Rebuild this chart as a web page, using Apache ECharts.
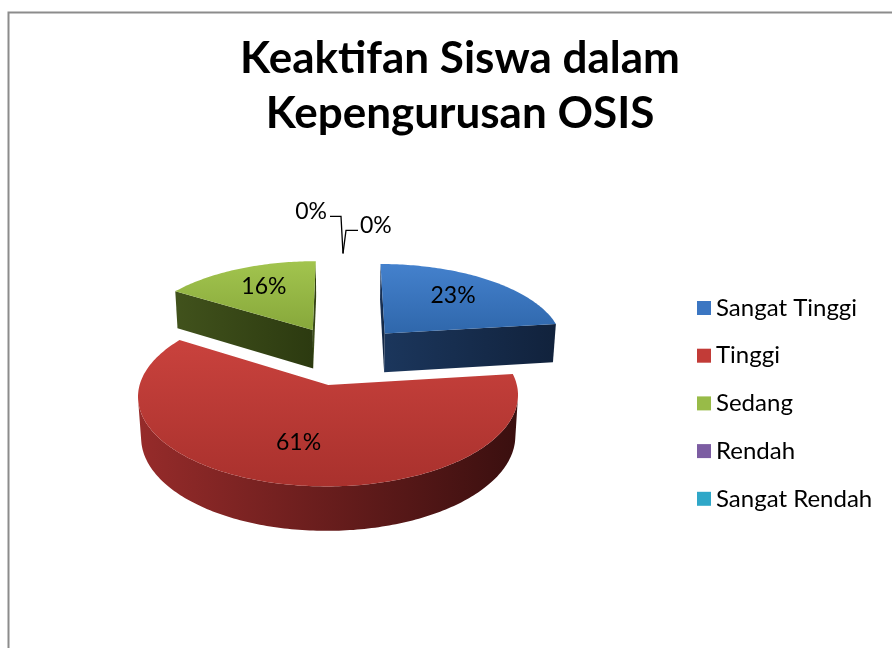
<!DOCTYPE html>
<html>
<head>
<meta charset="utf-8">
<script src="https://cdn.jsdelivr.net/npm/echarts@6/dist/echarts.min.js"></script>
<style>
  html, body { margin: 0; padding: 0; background: #fff; }
  #chart { width: 892px; height: 648px; }
</style>
</head>
<body>
<div id="chart"></div>
<script>
const categories = ['Sangat Tinggi', 'Tinggi', 'Sedang', 'Rendah', 'Sangat Rendah'];
const values = [23, 61, 16, 0, 0];

// colours: legend swatch, top face gradient, side wall gradient
const legendColors = ['#3b76c2', '#c23b37', '#98bb48', '#7c5da2', '#2fa7c8'];
const topColors = [
  ['#4481cd', '#2f67ab'],
  ['#c9423d', '#a9312d'],
  ['#a2c44e', '#87a83b'],
  ['#7c5da2', '#634888'],
  ['#2fa7c8', '#2088a6']
];
const sideColors = [
  ['#1b365c', '#11223c'],
  ['#962b2a', '#3a0f0f'],
  ['#41521c', '#2c3a10'],
  ['#3e2d55', '#2a1e3a'],
  ['#17566a', '#0f3a48']
];

// 3d pie geometry
const CX = 343, CY = 355;
const R = 181, H = 45, EXPLODE = 65;
const TILT = 27 * Math.PI / 180;
const DIST = 1400;
const FONT = 'Lato, "Open Sans", sans-serif';

const total = values.reduce((a, b) => a + b, 0);

function project(X, Y, Z) {
  const yp = Y * Math.cos(TILT) - Z * Math.sin(TILT);
  const zp = Y * Math.sin(TILT) + Z * Math.cos(TILT);
  const s = DIST / (DIST - zp);
  return [CX + X * s, CY - yp * s];
}

const camZ = DIST * Math.cos(TILT);

function makeRender(i) {
  return function (params, api) {
    const v = api.value(0);
    const start = values.slice(0, i).reduce((a, b) => a + b, 0);
    const a0 = start / total * 2 * Math.PI;
    const a1 = (start + v) / total * 2 * Math.PI;
    const mid = (a0 + a1) / 2;
    const ox = EXPLODE * Math.sin(mid), oz = -EXPLODE * Math.cos(mid);
    const pt = (a, r, Y) => project(ox + r * Math.sin(a), Y, oz - r * Math.cos(a));
    const depth = Math.round(oz);
    const children = [];

    if (v > 0) {
      const n = Math.max(2, Math.ceil((a1 - a0) / (Math.PI / 180)));
      const angs = [];
      for (let k = 0; k <= n; k++) angs.push(a0 + (a1 - a0) * k / n);

      const sideFill = new echarts.graphic.LinearGradient(0, 0, 1, 0, [
        { offset: 0, color: sideColors[i][0] },
        { offset: 1, color: sideColors[i][1] }
      ]);

      // outer wall
      const vis = angs.filter(a => {
        const px = ox + R * Math.sin(a), pz = oz - R * Math.cos(a);
        return Math.sin(a) * (0 - px) + (-Math.cos(a)) * (camZ - pz) > 0;
      });
      if (vis.length > 1) {
        const pts = vis.map(a => pt(a, R, 0)).concat(vis.slice().reverse().map(a => pt(a, R, -H)));
        children.push({ type: 'polygon', shape: { points: pts }, style: { fill: sideFill }, z2: depth });
      }
      // cut walls
      const wall = (a, sign) => {
        const nx = -Math.cos(a) * sign, nz = -Math.sin(a) * sign;
        const px = ox + R / 2 * Math.sin(a), pz = oz - R / 2 * Math.cos(a);
        const dot = nx * (0 - px) + nz * (camZ - pz);
        if (dot <= 0) return;
        const pts = [pt(a, 0, 0), pt(a, R, 0), pt(a, R, -H), pt(a, 0, -H)];
        children.push({ type: 'polygon', shape: { points: pts }, style: { fill: sideFill }, z2: depth });
      };
      wall(a0, 1);
      wall(a1, -1);

      // top face
      const topPts = [pt(0, 0, 0)].concat(angs.map(a => pt(a, R, 0)));
      children.push({
        type: 'polygon',
        shape: { points: topPts },
        style: {
          fill: new echarts.graphic.LinearGradient(0, 0, 0, 1, [
            { offset: 0, color: topColors[i][0] },
            { offset: 1, color: topColors[i][1] }
          ])
        },
        z2: depth + 1
      });

      const lp = pt(mid, R * 0.64, 0);
      children.push({
        type: 'text',
        style: {
          text: Math.round(v / total * 100) + '%',
          x: lp[0], y: lp[1] - 3,
          fill: '#000', font: '23px ' + FONT,
          align: 'center', verticalAlign: 'middle'
        },
        z2: 1000
      });
    } else {
      // zero slice: label with leader line from the top edge
      const anchor = pt(mid, R, 0);
      const zeroIdx = values.slice(0, i).filter(x => x === 0).length;
      const left = zeroIdx % 2 === 0;
      const rise = left ? 42 : 28;
      const run = left ? -11 : 12;
      const pts = [
        [anchor[0], anchor[1] - 5],
        [anchor[0] + (left ? -2 : 3), anchor[1] - rise],
        [anchor[0] + (left ? -2 : 3) + run, anchor[1] - rise]
      ];
      children.push({
        type: 'polyline',
        shape: { points: pts },
        style: { stroke: '#000', lineWidth: 1.3, fill: null },
        z2: 1000
      });
      children.push({
        type: 'text',
        style: {
          text: Math.round(v / total * 100) + '%',
          x: pts[2][0] + (left ? -3 : 2), y: pts[2][1] - 5,
          fill: '#000', font: '23px ' + FONT,
          align: left ? 'right' : 'left', verticalAlign: 'middle'
        },
        z2: 1000
      });
    }
    return { type: 'group', children: children };
  };
}

const chart = echarts.init(document.getElementById('chart'));

chart.setOption({
  animation: false,
  color: legendColors,
  title: {
    text: 'Keaktifan Siswa dalam\nKepengurusan OSIS',
    left: 455,
    top: 26,
    textAlign: 'center',
    textStyle: {
      fontFamily: FONT,
      fontSize: 44,
      fontWeight: 'bold',
      lineHeight: 55,
      color: '#000'
    }
  },
  legend: {
    orient: 'vertical',
    left: 692,
    top: 291,
    itemWidth: 14,
    itemHeight: 14,
    itemGap: 23.7,
    icon: 'rect',
    data: categories,
    textStyle: { fontFamily: FONT, fontSize: 24, lineHeight: 24, color: '#000' }
  },
  graphic: [{
    type: 'rect',
    shape: { x: 8.5, y: 12.5, width: 900, height: 700 },
    style: { fill: null, stroke: '#8c8c8c', lineWidth: 2 },
    silent: true
  }],
  series: categories.map((name, i) => ({
    type: 'custom',
    name: name,
    coordinateSystem: 'none',
    itemStyle: { color: legendColors[i] },
    renderItem: makeRender(i),
    data: [[values[i]]]
  }))
});
</script>
</body>
</html>
